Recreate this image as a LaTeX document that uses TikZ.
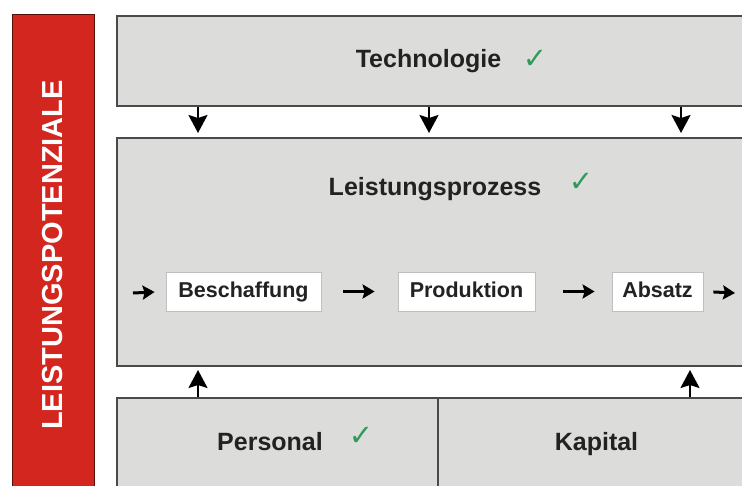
\documentclass[tikz,border=0pt]{standalone}
\usepackage{fontspec}
\setmainfont{Liberation Sans}
\newfontfamily\symfont{DejaVu Sans}
\usetikzlibrary{arrows.meta}
\definecolor{panelgray}{HTML}{DCDCDB}
\definecolor{edgegray}{HTML}{4A4A4A}
\definecolor{barred}{HTML}{D3261E}
\definecolor{tickgreen}{HTML}{2E9B5B}
\definecolor{txt}{HTML}{222222}
\tikzset{
  panel/.style={draw=edgegray, line width=2pt, fill=panelgray, rectangle, inner sep=0pt},
  stagebox/.style={draw=black!25, line width=0.8pt, fill=white, rectangle, inner sep=0pt,
    minimum height=39pt, text height=16pt, text depth=4.5pt,
    text=txt, font=\bfseries\fontsize{21.5}{24}\selectfont},
  title/.style={anchor=base, text=txt, font=\bfseries\fontsize{25}{28}\selectfont, inner sep=0pt},
  tick/.style={text=tickgreen, font=\symfont\bfseries\fontsize{29}{32}\selectfont, inner sep=0pt},
  bigarrow/.style={line width=2.5pt, -{Stealth[length=18pt,width=19pt,inset=3pt]}},
  flowarrow/.style={line width=3pt, -{Stealth[length=12pt,width=14pt,inset=2pt]}}
}
\begin{document}
\begin{tikzpicture}[x=1pt,y=-1pt]
\useasboundingbox (0,0) rectangle (742,485);
\fill[white] (0,0) rectangle (742,485);
\clip (0,0) rectangle (742,485);

% vertical red bar
\node[draw=black!60!barred, line width=1pt, fill=barred, minimum width=82pt, minimum height=480pt,
      inner sep=0pt, anchor=north west] (bar) at (12,14) {};
\node[rotate=90, text=white, font=\bfseries\fontsize{29}{32}\selectfont, inner sep=0pt]
      (barlabel) at (53,255) {LEISTUNGSPOTENZIALE};

% panels (right and bottom edges run past the frame)
\node[panel, minimum width=640pt, minimum height=90pt, anchor=north west] (tech) at (116,15) {};
\node[panel, minimum width=640pt, minimum height=228pt, anchor=north west] (proc) at (116,137) {};
\node[panel, minimum width=321pt, minimum height=100pt, anchor=north west] (pers) at (116,397) {};
\node[panel, minimum width=320pt, minimum height=100pt, anchor=north west] (kap) at (437,397) {};

% panel titles
\node[title] (techtitle) at (428.5,67) {Technologie};
\node[tick] (techtick) at (535,59) {✓};
\node[title] (proctitle) at (435,195) {Leistungsprozess};
\node[tick] (proctick) at (581,182) {✓};
\node[title] (perstitle) at (270,450) {Personal};
\node[tick] (perstick) at (361,436) {✓};
\node[title] (kaptitle) at (596.5,450) {Kapital};

% process stages
\node[stagebox, minimum width=155pt] (besch) at (243.5,291.5) {Beschaffung};
\node[stagebox, minimum width=137pt] (prod) at (466.5,291.5) {Produktion};
\node[stagebox, minimum width=91pt] (absatz) at (657.5,291.5) {Absatz};
\coordinate (flowin) at (133,293);
\coordinate (flowout) at (735,293);

\draw[flowarrow, shorten >=11pt] (flowin) -- (besch.west);
\draw[flowarrow, shorten <=22pt, shorten >=23pt] (besch.east) -- (prod.west);
\draw[flowarrow, shorten <=28pt, shorten >=17pt] (prod.east) -- (absatz.west);
\draw[flowarrow, shorten <=10pt] (absatz.east) -- (flowout);

% arrows between the panels
\draw[bigarrow, shorten >=4pt] (198,0 |- tech.south) -- (198,0 |- proc.north);
\draw[bigarrow, shorten >=4pt] (429,0 |- tech.south) -- (429,0 |- proc.north);
\draw[bigarrow, shorten >=4pt] (681,0 |- tech.south) -- (681,0 |- proc.north);
\draw[bigarrow, shorten >=3pt] (198,0 |- pers.north) -- (198,0 |- proc.south);
\draw[bigarrow, shorten >=3pt] (690,0 |- kap.north) -- (690,0 |- proc.south);
\end{tikzpicture}
\end{document}
